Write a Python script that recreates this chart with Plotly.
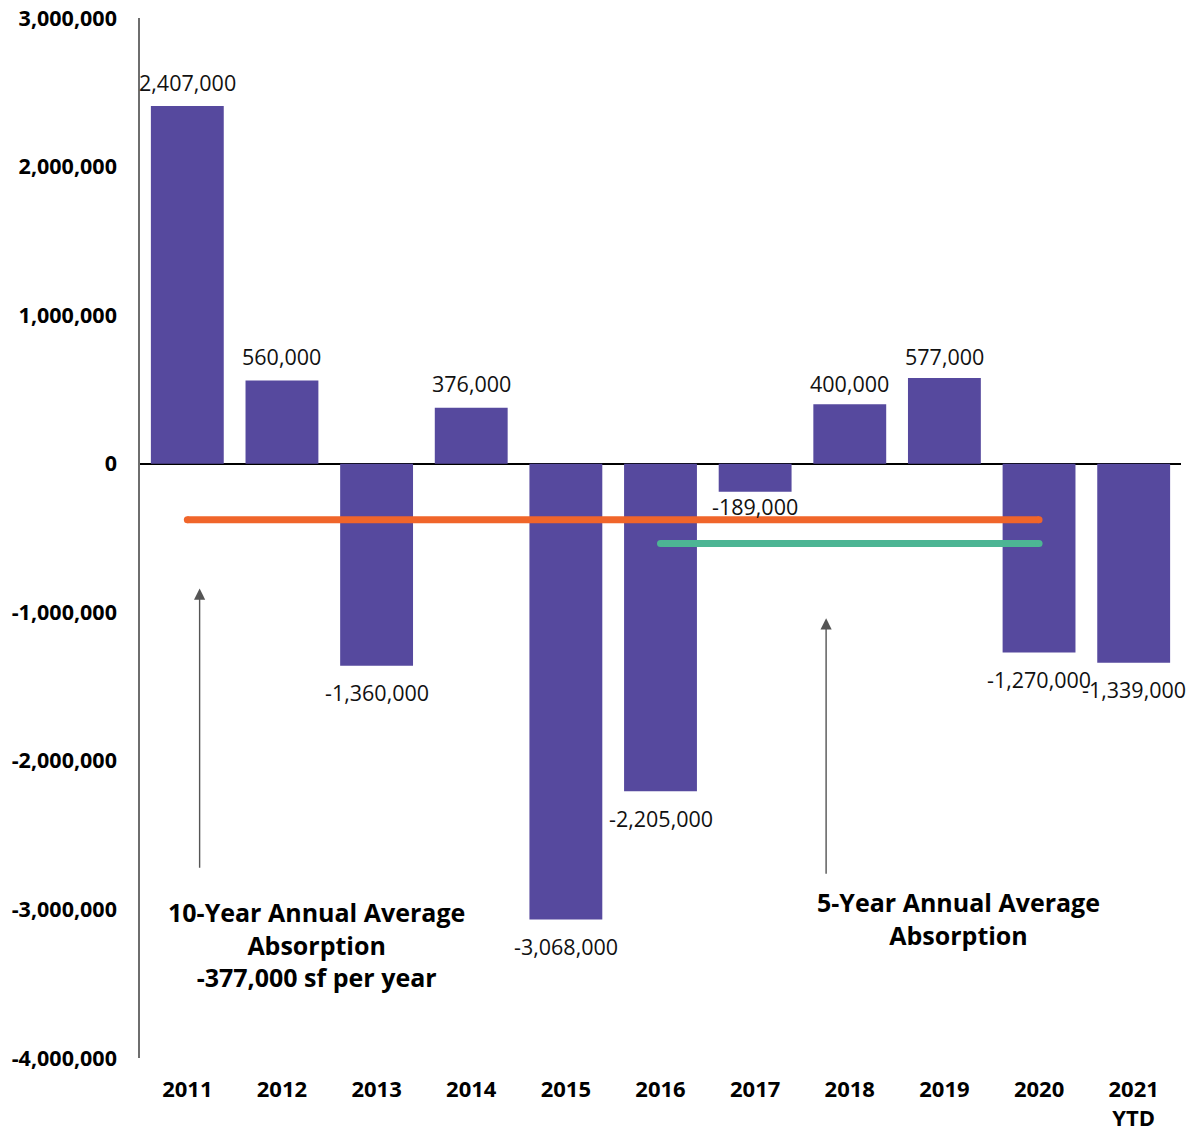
import plotly.graph_objects as go

# Net absorption by year (sf)
years = ["2011", "2012", "2013", "2014", "2015", "2016", "2017", "2018", "2019", "2020", "2021<br>YTD"]
absorption = [2407000, 560000, -1360000, 376000, -3068000, -2205000, -189000, 400000, 577000, -1270000, -1339000]

# Averages: 10-year (2011-2020) and 5-year (2016-2020)
ten_year_span = years[0:10]
five_year_span = years[5:10]
ten_year_avg = sum(absorption[0:10]) / 10
five_year_avg = sum(absorption[5:10]) / 5

y_ticks = [3000000, 2000000, 1000000, 0, -1000000, -2000000, -3000000, -4000000]
y_tick_text = [f"{v:,}" for v in y_ticks]

BAR = "#56499E"
ORANGE = "#F0652A"
GREEN = "#4DB594"
FONT = "Open Sans"

fig = go.Figure()

fig.add_trace(go.Bar(
    x=years, y=absorption, marker=dict(color=BAR, line=dict(width=0)),
    hoverinfo="x+y", showlegend=False,
))

# Average lines drawn from first to last year of each window
fig.add_trace(go.Scatter(
    x=[ten_year_span[0], ten_year_span[-1]], y=[ten_year_avg, ten_year_avg],
    mode="lines+markers", line=dict(color=ORANGE, width=7),
    marker=dict(color=ORANGE, size=7), showlegend=False,
))
fig.add_trace(go.Scatter(
    x=[five_year_span[0], five_year_span[-1]], y=[five_year_avg, five_year_avg],
    mode="lines+markers", line=dict(color=GREEN, width=7),
    marker=dict(color=GREEN, size=7), showlegend=False,
))

# Value labels above positive bars and below negative ones
# (annotations on a category axis are placed by category index)
label_shift = {"2017": -15, "2018": 21, "2019": 21}
for i, (yr, v) in enumerate(zip(years, absorption)):
    shift = label_shift.get(yr, 24 if v >= 0 else -27)
    fig.add_annotation(
        x=i, y=v, text=f"{v:,}", showarrow=False, yshift=shift,
        font=dict(family=FONT, size=21.5, color="#111111"),
    )

# Callout arrows
arrow_style = dict(showarrow=True, arrowhead=2, arrowsize=1.6, arrowwidth=1.4,
                   arrowcolor="#555555", text="", axref="x", ayref="y")
fig.add_annotation(x=0.13, y=-840000, ax=0.13, ay=-2730000, **arrow_style)
fig.add_annotation(x=6.75, y=-1040000, ax=6.75, ay=-2770000, **arrow_style)

# Callout text blocks
fig.add_annotation(
    x=1.36, y=-3235000, showarrow=False,
    text=f"<b>10-Year Annual Average<br>Absorption<br>{round(ten_year_avg, -3):,.0f} sf per year</b>",
    font=dict(family=FONT, size=25, color="#000000"), align="center",
)
fig.add_annotation(
    x=8.15, y=-3060000, showarrow=False,
    text="<b>5-Year Annual Average<br>Absorption</b>",
    font=dict(family=FONT, size=25, color="#000000"), align="center",
)

fig.update_layout(
    width=1193, height=1129,
    margin=dict(l=140, r=12, t=18, b=71),
    paper_bgcolor="white", plot_bgcolor="white",
    bargap=0.23,
    font=dict(family=FONT, color="#000000"),
    xaxis=dict(
        type="category", range=[-0.5, 10.5], showgrid=False, showline=False,
        ticks="", ticklabelstandoff=16, automargin=False,
        tickfont=dict(family=FONT, size=22, color="#000000", weight="bold"),
    ),
    yaxis=dict(
        range=[-4000000, 3000000], tickvals=y_ticks, ticktext=y_tick_text,
        showgrid=False, showline=True, linecolor="#6e6e6e", linewidth=1.5,
        zeroline=True, zerolinecolor="#000000", zerolinewidth=1.5,
        ticks="", ticklabelstandoff=17, automargin=False,
        tickfont=dict(family=FONT, size=21.5, color="#000000", weight="bold"),
    ),
)

fig.write_html("out.html")
